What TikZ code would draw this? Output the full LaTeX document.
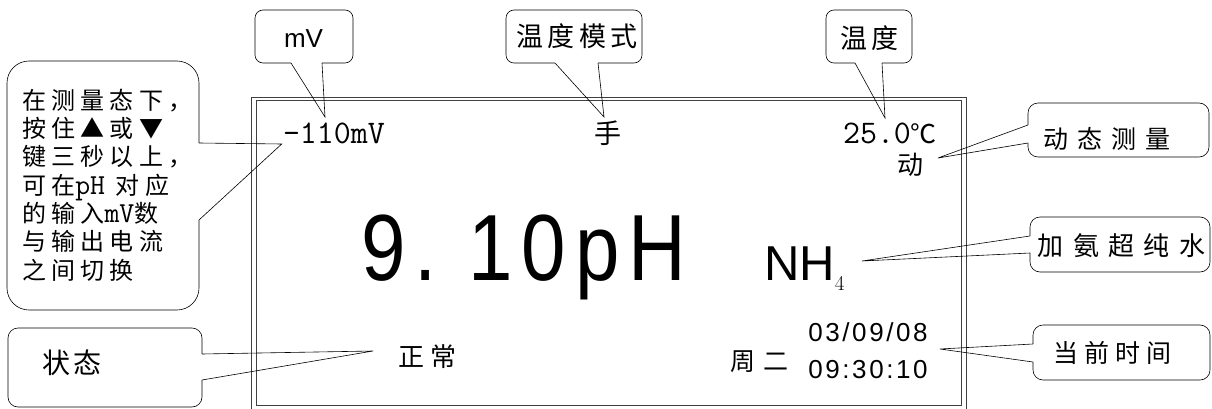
\documentclass[tikz,border=0pt]{standalone}
\usepackage{fontspec}
\newfontfamily\cjkfont{Noto Sans CJK SC}
\newfontfamily\lcdfont{Liberation Sans}
\usetikzlibrary{calc}
\tikzstyle{callout}=[draw, line width=0.6pt, rounded corners=8pt, inner sep=0pt, outer sep=0pt]
\tikzstyle{reading}=[inner sep=0pt, outer sep=0pt]
\tikzstyle{frame}=[draw=black!75, line width=0.7pt]
\newcommand{\cjkat}[2]{\cjkfont\fontsize{#1}{#1}\selectfont\addfontfeature{LetterSpace=#2}}
\newcommand{\lcdat}[1]{\lcdfont\fontsize{#1}{#1}\selectfont}
\newcommand{\calltail}[3]{% Syntax: {base start}{tip}{base end}
	\draw[white, line width=2pt] (#1) -- (#3);
	\draw[line width=0.6pt] (#1) -- (#2) -- (#3);
}

\begin{document}
\begin{tikzpicture}[x=1pt,y=1pt]
	\useasboundingbox (0,0) rectangle (1212,408);
	% the display, a double frame
	\draw[frame] (251.7,-3) rectangle (966.7,311);
	\draw[frame] (256.7,2.5) rectangle (961.7,307.5);
	\node[reading, anchor=base west, font=\ttfamily\fontsize{33}{33}\selectfont] (mvread) at (283,265) {-110mV};
	\node[reading, font=\cjkat{27}{0}] (moderead) at (608,275) {手};
	\node[reading, anchor=base west, font=\ttfamily\fontsize{33}{33}\selectfont] (tempread) at (843,265) {25.0{\cjkat{26}{0}℃}};
	\node[reading, font=\cjkat{26}{0}] (dynread) at (910,243) {动};
	\node[reading, anchor=base west, xscale=0.85, font=\lcdat{94}\addfontfeature{LetterSpace=11.5}] (phread) at (361,128) {9.\ 10pH};
	\node[reading, anchor=base west, font=\lcdat{49}] (nhread) at (764,128) {NH\raisebox{-10pt}{\rmfamily\fontsize{21}{21}\selectfont 4}};
	\node[reading, font=\cjkat{26}{25}] (stateread) at (427.5,51) {正常};
	\node[reading, font=\cjkat{25}{32}] (weekread) at (759,46) {周二};
	\node[reading, font=\lcdat{26}\addfontfeature{LetterSpace=10}] (dateread) at (868,75.5) {03/09/08};
	\node[reading, font=\lcdat{26}\addfontfeature{LetterSpace=10}] (timeread) at (868,38) {09:30:10};

	% callout boxes
	\node[callout, minimum width=98, minimum height=53] (mvbox) at (304,371.5) {};
	\node[font=\lcdat{26}] (mvtext) at (303.5,369.5) {mV};
	\node[callout, minimum width=136, minimum height=53] (modebox) at (574,371.5) {};
	\node[font=\cjkat{27}{15}] (modetext) at (577,371.5) {温度模式};
	\node[callout, minimum width=86, minimum height=53] (tempbox) at (869,371.5) {};
	\node[font=\cjkat{27}{15}] (temptext) at (869.5,369.5) {温度};
	\node[callout, rounded corners=10pt, minimum width=181, minimum height=54] (dynbox) at (1118.5,278) {};
	\node[font=\cjkat{25}{35}] (dyntext) at (1107,269) {动态测量};
	\node[callout, rounded corners=10pt, minimum width=180, minimum height=55] (waterbox) at (1120,163.5) {};
	\node[font=\cjkat{26}{36}] (watertext) at (1121.5,162) {加氨超纯水};
	\node[callout, rounded corners=10pt, minimum width=177, minimum height=55] (timebox) at (1121.5,55.5) {};
	\node[font=\cjkat{25}{24}] (timetext) at (1112,55) {当前时间};
	\node[callout, rounded corners=10pt, minimum width=194, minimum height=79] (statebox) at (105,40.5) {};
	\node[font=\cjkat{28}{8}] (statetext) at (72,45) {状态};
	\node[callout, rounded corners=22pt, minimum width=192, minimum height=249] (notebox) at (103,222.5) {};
	\node[reading, anchor=west, align=left, font=\cjkat{24}{22}\fontsize{24}{28.3}\selectfont] (notetext) at (22,223) {在测量态下，\\按住▲或▼\\键三秒以上，\\可在{\ttfamily\fontsize{29}{28.3}\selectfont pH}\ 对应\\的输入{\ttfamily\fontsize{29}{28.3}\selectfont mV}数\\与输出电流\\之间切换};

	% where the callouts point
	\coordinate (mvtip) at (325,291);
	\coordinate (modetip) at (604,291);
	\coordinate (temptip) at (885,290);
	\coordinate (dyntip) at (938,250);
	\coordinate (nhtip) at (862,147);
	\coordinate (timetip) at (940,59);
	\coordinate (statetip) at (373,57);
	\coordinate (notetip) at (281.7,264);

	\calltail{$(mvbox.south west)+(36,0)$}{mvtip}{$(mvbox.south west)+(67,0)$}
	\calltail{$(modebox.south west)+(49,0)$}{modetip}{$(modebox.south west)+(92,0)$}
	\calltail{$(tempbox.south west)+(29,0)$}{temptip}{$(tempbox.south west)+(56,0)$}
	\calltail{$(dynbox.south west)+(0,32)$}{dyntip}{$(dynbox.south west)+(0,14)$}
	\calltail{$(waterbox.south west)+(0,36)$}{nhtip}{$(waterbox.south west)+(0,19)$}
	\calltail{$(timebox.south west)+(0,36)$}{timetip}{$(timebox.south west)+(0,18)$}
	\calltail{$(statebox.south east)+(0,53)$}{statetip}{$(statebox.south east)+(0,27)$}
	\calltail{$(notebox.south east)+(0,167)$}{notetip}{$(notebox.south east)+(0,90)$}
\end{tikzpicture}
\end{document}
